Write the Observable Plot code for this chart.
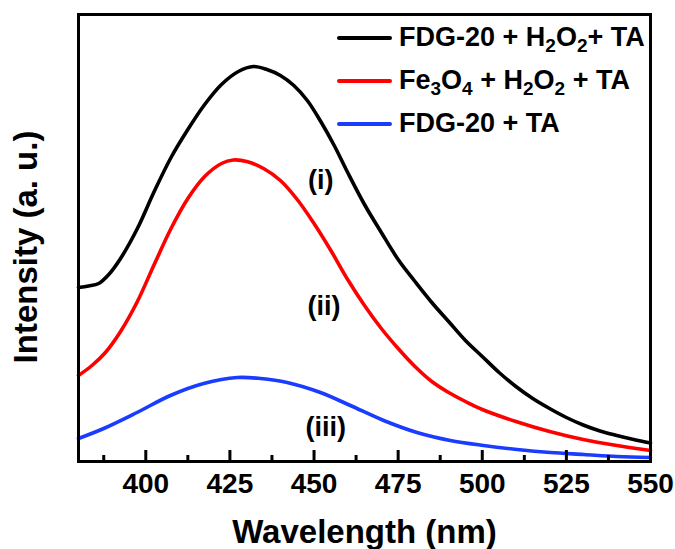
<!DOCTYPE html>
<html><head><meta charset="utf-8">
<script src="https://cdn.jsdelivr.net/npm/d3@7"></script>
<script src="https://cdn.jsdelivr.net/npm/@observablehq/plot@0.6"></script>
<style>
body{margin:0;background:#fff;}
#wrap{position:relative;width:675px;height:549px;font-family:"Liberation Sans",Arial,sans-serif;}
.legend{position:absolute;left:337px;top:16px;}
.row{display:flex;align-items:center;height:43px;}
.swatch{width:55px;height:4px;margin-right:7px;border-radius:2px;}
.lab{font-size:27px;font-weight:bold;line-height:1;color:#000;white-space:nowrap;}
.lab sub{font-size:19px;vertical-align:-6px;line-height:0;}
</style></head>
<body>
<div id="wrap"></div>
<script>
// Series (wavelength in nm, intensity in a.u.)
const seriesNames = ["FDG-20 + H2O2+ TA", "Fe3O4 + H2O2 + TA", "FDG-20 + TA"];
const seriesColors = ["#000000", "#ff0000", "#1a3cff"];
const legendHTML = [
  "FDG-20 + H<sub>2</sub>O<sub>2</sub>+ TA",
  "Fe<sub>3</sub>O<sub>4</sub> + H<sub>2</sub>O<sub>2</sub> + TA",
  "FDG-20 + TA"
];

const wlBlack = [380, 383, 386, 389, 392.5, 397.5, 402.5, 407.5, 412.5, 417.5, 422.5, 427.5, 432, 436, 440, 444, 448, 452, 456, 460, 465, 470, 475, 480, 485, 490, 495, 500, 505, 510, 515, 520, 525, 530, 535, 540, 545, 550];
const inBlack = [174, 175.5, 178, 187, 203, 233, 270, 304, 332, 357, 377, 390, 395, 392, 386, 376, 361, 340, 316, 289, 257, 229, 202, 180, 159, 140, 121, 105, 89, 75, 63, 53, 44, 36.5, 30.5, 26, 22, 18.5];

const wlRed = [380, 384, 388, 392.5, 397.5, 402.5, 407.5, 412.5, 417.5, 422.5, 426, 430, 435, 440, 445, 450, 455, 460, 465, 470, 475, 480, 485, 490, 495, 500, 510, 520, 530, 540, 550];
const inRed = [86, 96, 109, 130, 160, 197, 233, 263, 285, 298, 301.5, 300, 293, 281, 262, 238, 211, 182, 156, 133, 113, 95, 80, 69, 60, 52, 40, 30, 22, 16, 11];

const wlBlue = [380, 387.5, 397.4, 407.3, 417.2, 427.2, 434.1, 442, 451.9, 460.8, 470.7, 480.6, 490.5, 500.4, 510.4, 520.3, 530.2, 540.1, 550];
const inBlue = [23, 33, 49, 66, 78, 84, 83, 79, 69, 56, 41, 29, 21, 16, 12, 9, 7, 5, 4];

const majorTicks = [400, 425, 450, 475, 500, 525, 550];
const minorTicks = [387.5, 412.5, 437.5, 462.5, 487.5, 512.5, 537.5];

const curveLabels = ["(i)", "(ii)", "(iii)"];
const curveLabelWl = [452, 453, 453.5];
const curveLabelIn = [281, 155, 34];

const xTitle = "Wavelength (nm)";
const yTitle = "Intensity (a. u.)";

// Build tables
const wls = [wlBlack, wlRed, wlBlue];
const ins = [inBlack, inRed, inBlue];
const data = [];
seriesNames.forEach((s, i) => wls[i].forEach((w, j) => data.push({series: s, wl: w, intensity: ins[i][j]})));
const labels = curveLabels.map((t, i) => ({t, wl: curveLabelWl[i], intensity: curveLabelIn[i]}));

const FONT = '"Liberation Sans", Arial, sans-serif';
const W = 675, H = 549, mL = 78, mR = 25, mT = 14, mB = 88;
const innerH = H - mT - mB; // y scale: 1 unit = 1 px
const majorLen = 11, minorLen = 6;

const chart = Plot.plot({
  width: W, height: H,
  marginLeft: mL, marginRight: mR, marginTop: mT, marginBottom: mB,
  style: {fontFamily: FONT, background: "#fff", color: "#000"},
  x: {domain: [380, 550]},
  y: {domain: [0, innerH]},
  color: {domain: seriesNames, range: seriesColors},
  marks: [
    Plot.line(data, {x: "wl", y: "intensity", z: "series", stroke: "series", strokeWidth: 3.6, curve: "catmull-rom"}),
    Plot.ruleX(majorTicks, {x: d => d, y1: 0, y2: majorLen, stroke: "#000", strokeWidth: 3}),
    Plot.ruleX(minorTicks, {x: d => d, y1: 0, y2: minorLen, stroke: "#000", strokeWidth: 3}),
    Plot.frame({stroke: "#000", strokeWidth: 3}),
    Plot.axisX(majorTicks, {tickSize: 0, tickPadding: 12, fontSize: 28, fontWeight: "bold", label: null, fill: "#000"}),
    Plot.axisY([], {label: null}),
    Plot.text(labels, {x: "wl", y: "intensity", text: "t", fontSize: 27, fontWeight: "bold", fill: "#000"}),
    Plot.text([xTitle], {text: d => d, frameAnchor: "bottom", textAnchor: "middle", dy: 81, fontSize: 33, fontWeight: "bold", fill: "#000"}),
    Plot.text([yTitle], {text: d => d, frameAnchor: "left", textAnchor: "middle", lineAnchor: "middle", dx: -52, dy: 9, rotate: -90, fontSize: 33, fontWeight: "bold", fill: "#000"})
  ]
});

const wrap = document.getElementById("wrap");
wrap.appendChild(chart);

const legend = document.createElement("div");
legend.className = "legend";
seriesNames.forEach((s, i) => {
  const row = document.createElement("div");
  row.className = "row";
  const sw = document.createElement("div");
  sw.className = "swatch";
  sw.style.background = seriesColors[i];
  const lab = document.createElement("div");
  lab.className = "lab";
  lab.innerHTML = legendHTML[i];
  row.appendChild(sw); row.appendChild(lab);
  legend.appendChild(row);
});
wrap.appendChild(legend);
</script>
</body></html>
